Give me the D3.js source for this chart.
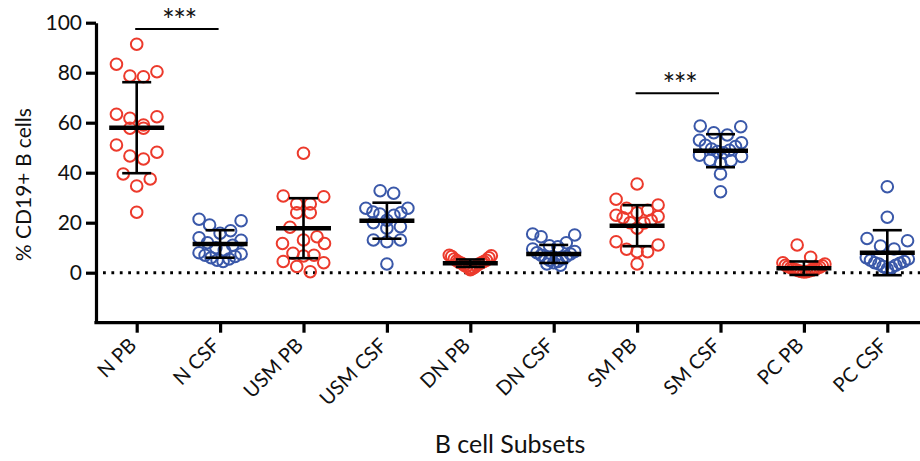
<!DOCTYPE html>
<html>
<head>
<meta charset="utf-8">
<script src="https://cdn.jsdelivr.net/npm/d3@7"></script>
<style>
  body { margin: 0; background: #fff; }
  svg { display: block; }
  text { font-family: Lato, "Open Sans", sans-serif; fill: #111; }
</style>
</head>
<body>
<svg id="chart" width="920" height="461"></svg>
<script>
// B cell subsets as % of CD19+ B cells, peripheral blood (PB) vs CSF
const categories = ["N PB", "N CSF", "USM PB", "USM CSF", "DN PB", "DN CSF", "SM PB", "SM CSF", "PC PB", "PC CSF"];
const compartment = ["PB", "CSF", "PB", "CSF", "PB", "CSF", "PB", "CSF", "PB", "CSF"];

const nPB   = [91.4, 83.4, 80.4, 78.7, 78.4, 63.4, 62.4, 61.8, 59.1, 57.8, 57.8, 51.1, 48.2, 46.7, 45.5, 39.5, 37.5, 34.7, 24.2];
const nCSF  = [21.4, 20.8, 19.1, 16.8, 15.8, 14, 13, 12, 11, 10, 9, 8, 7.5, 7, 6.5, 6, 5.5, 5, 4.5];
const usmPB = [47.8, 30.7, 30.4, 27.5, 27.5, 24, 24, 18.2, 14.4, 13.1, 11.7, 11.7, 7.8, 7, 6.7, 4.5, 4, 2.5, 0.4];
const usmCSF = [32.8, 31.8, 25.8, 25.8, 24.3, 24, 23.5, 23, 21, 20, 18.4, 17.8, 13.1, 13.1, 12.4, 3.5];
const dnPB  = [7, 6.8, 6.5, 6, 5.5, 5, 4.8, 4.5, 4.2, 4, 3.8, 3.5, 3, 2.8, 2.5, 2, 1.8, 1.5, 1.2];
const dnCSF = [15.5, 15.1, 14.4, 12, 10.8, 10.4, 9.5, 8.5, 8, 7.5, 7, 6.5, 6, 5.5, 5, 4.5, 4, 3.5, 3];
const smPB  = [35.5, 29.4, 27.1, 25.8, 25, 24, 23, 22.5, 22, 21, 20, 19.9, 17.8, 12.4, 11.1, 9.4, 8.4, 8.4, 3.5];
const smCSF = [58.7, 58.4, 56, 55.1, 53, 52, 51, 50.5, 49.5, 49, 48.5, 48, 47, 46.5, 45, 44.8, 43.8, 39.5, 32.4];
const pcPB  = [11.1, 6.2, 4, 3.5, 3, 2.8, 2.5, 2.2, 2, 1.8, 1.5, 1.3, 1.2, 1, 0.8, 0.7, 0.5, 0.4, 0.3];
const pcCSF = [34.4, 22.2, 13.7, 12.8, 10.7, 9.5, 6, 5.5, 5, 4.5, 4, 3.8, 3.5, 3, 2.5, 2, 1.5];
const groupValues = [nPB, nCSF, usmPB, usmCSF, dnPB, dnCSF, smPB, smCSF, pcPB, pcCSF];

// group mean and SD
const means = [58, 11.5, 17.8, 20.8, 3.8, 7.5, 18.8, 48.8, 1.8, 8];
const sds   = [18.2, 5.5, 12, 7.2, 1.5, 3.6, 8.2, 6.6, 2.7, 9];

// significance brackets
const sigFrom   = ["N PB", "SM PB"];
const sigTo     = ["N CSF", "SM CSF"];
const sigLevel  = [97.5, 71.8];
const sigLabel  = ["***", "***"];

const yTicks = [0, 20, 40, 60, 80, 100];
const colors = { PB: "#ec3a2c", CSF: "#3a58a9" };

const svg = d3.select("#chart");
const W = 920;

const x = d3.scalePoint().domain(categories).range([95, 929]).padding(0.5);
const y = d3.scaleLinear().domain([-20, 100]).range([322.7, 22.7]);

// y axis
const yAxis = svg.append("g")
  .attr("transform", "translate(96,0)")
  .call(d3.axisLeft(y).tickValues(yTicks).tickSize(10).tickPadding(4).tickSizeOuter(0));
yAxis.select(".domain").attr("stroke", "#000").attr("stroke-width", 3.2);
yAxis.selectAll(".tick line").attr("stroke", "#000").attr("stroke-width", 3.2);
yAxis.selectAll(".tick text").attr("font-size", 21).attr("font-family", "Lato, sans-serif").attr("fill", "#111");

// x axis
const xAxis = svg.append("g")
  .attr("transform", `translate(0,${y(-20)})`)
  .call(d3.axisBottom(x).tickSize(10).tickSizeOuter(0).tickFormat(""));
xAxis.select(".domain").attr("stroke", "#000").attr("stroke-width", 3.2)
  .attr("d", `M94.4,0H${W}`);
xAxis.selectAll(".tick line").attr("stroke", "#000").attr("stroke-width", 3.2);

svg.append("g").selectAll("text")
  .data(categories)
  .join("text")
  .attr("transform", d => `translate(${x(d) + 1},${y(-20) + 24}) rotate(-45)`)
  .attr("text-anchor", "end")
  .attr("font-size", 20)
  .text(d => d);

// axis titles
svg.append("text")
  .attr("transform", `translate(31,${(y(-20) + y(100)) / 2 + 12}) rotate(-90)`)
  .attr("text-anchor", "middle")
  .attr("font-size", 21)
  .text("% CD19+ B cells");

svg.append("text")
  .attr("x", 510).attr("y", 453)
  .attr("text-anchor", "middle")
  .attr("font-size", 25)
  .text("B cell Subsets");

// dotted zero line
svg.append("line")
  .attr("x1", 103).attr("x2", W)
  .attr("y1", y(0)).attr("y2", y(0))
  .attr("stroke", "#000").attr("stroke-width", 3)
  .attr("stroke-dasharray", "2.8 5.6");

// scatter layout: rows of nearby values spread symmetrically, higher values outward
function swarm(values, rowH, spacing, halfMax) {
  const pts = values.map(v => ({ v, py: y(v) })).sort((a, b) => a.py - b.py);
  const rows = [];
  let cur = null;
  for (const p of pts) {
    if (!cur || p.py - cur[0].py > rowH) { cur = [p]; rows.push(cur); }
    else cur.push(p);
  }
  rows.forEach(row => {
    const n = row.length;
    const step = n > 1 ? Math.min(spacing, 2 * halfMax / (n - 1)) : 0;
    const slots = d3.range(n).map(i => (i - (n - 1) / 2) * step);
    slots.sort((a, b) => Math.abs(b) - Math.abs(a) || a - b);
    row.forEach((p, i) => { p.dx = slots[i]; });
  });
  return pts;
}

const groups = svg.append("g").selectAll("g")
  .data(categories)
  .join("g")
  .attr("transform", d => `translate(${x(d)},0)`);

groups.each(function (cat, i) {
  const g = d3.select(this);
  const pts = swarm(groupValues[i], 14, 13.5, 21);
  g.selectAll("circle")
    .data(pts)
    .join("circle")
    .attr("cx", d => d.dx)
    .attr("cy", d => y(d.v))
    .attr("r", 5.8)
    .attr("fill", "none")
    .attr("stroke", colors[compartment[i]])
    .attr("stroke-width", 2);

  const m = means[i], s = sds[i];
  g.append("line")
    .attr("x1", 0).attr("x2", 0)
    .attr("y1", y(m + s)).attr("y2", y(m - s))
    .attr("stroke", "#000").attr("stroke-width", 2.6);
  [m + s, m - s].forEach(v => {
    g.append("line")
      .attr("x1", -14.5).attr("x2", 14.5)
      .attr("y1", y(v)).attr("y2", y(v))
      .attr("stroke", "#000").attr("stroke-width", 2.6);
  });
  g.append("line")
    .attr("x1", -27.5).attr("x2", 27.5)
    .attr("y1", y(m)).attr("y2", y(m))
    .attr("stroke", "#000").attr("stroke-width", 4.6);
});

// significance brackets
sigFrom.forEach((a, i) => {
  const x1 = x(a) - 1.5, x2 = x(sigTo[i]) - 1.5;
  svg.append("line")
    .attr("x1", x1).attr("x2", x2)
    .attr("y1", y(sigLevel[i])).attr("y2", y(sigLevel[i]))
    .attr("stroke", "#000").attr("stroke-width", 2);
  svg.append("text")
    .attr("x", (x1 + x2) / 2 + 2)
    .attr("y", y(sigLevel[i]) + 2)
    .attr("text-anchor", "middle")
    .attr("font-size", 30)
    .attr("letter-spacing", -1.5)
    .text(sigLabel[i]);
});
</script>
</body>
</html>
